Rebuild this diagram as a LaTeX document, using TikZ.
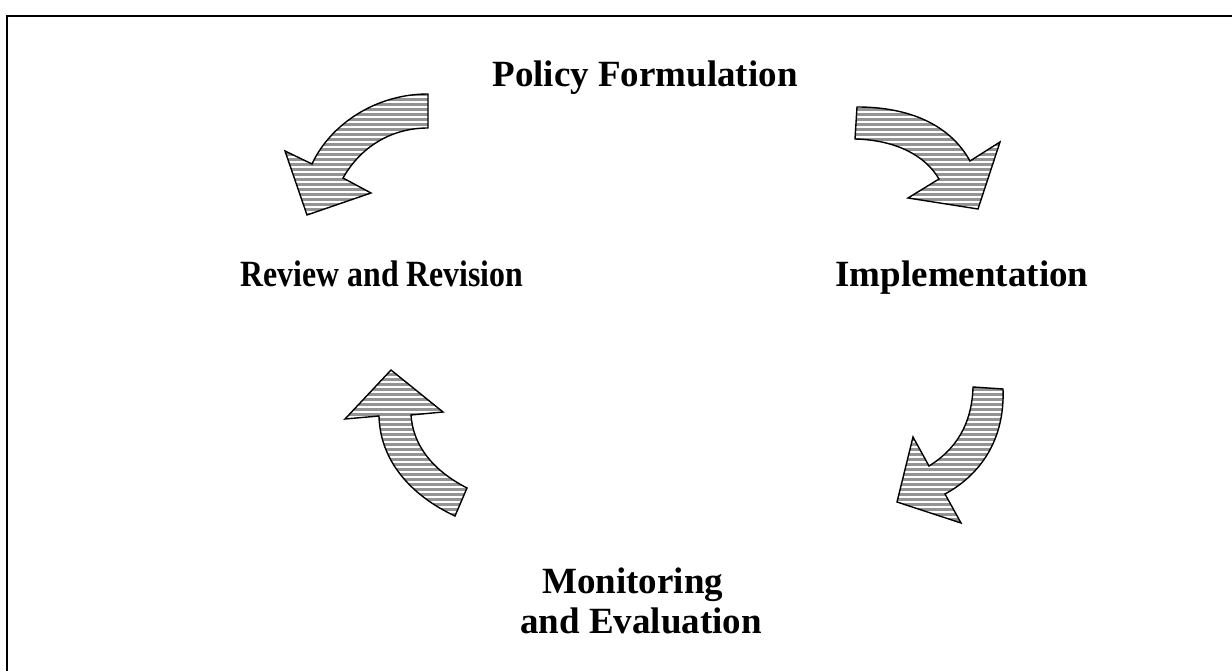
\documentclass[tikz,border=0pt]{standalone}
\usepackage{fontspec}
\setmainfont{Liberation Serif}

\begin{document}
\begin{tikzpicture}[x=1pt, y=-1pt,
  phase/.style={font=\bfseries\fontsize{37}{40}\selectfont, inner sep=0pt},
  bentarrow/.style={fill=black!42, draw=black, line width=1.4pt, line join=miter,
    path picture={\foreach \ry in {2,7,...,672} \draw[white, line width=1.1pt] (0,\ry) -- (1232,\ry);}}]
\useasboundingbox (0,0) rectangle (1232,671);
% frame
\draw[line width=2.2pt] (1232,16) -- (7,16) -- (7,671);
% the four phases
\node[phase, anchor=base] (policy) at (645,87) {Policy Formulation};
\node[phase, anchor=base] (review) at (382,287) {\scalebox{0.86}[1]{Review and Revision}};
\node[phase, anchor=base] (impl) at (962,287) {Implementation};
\node[phase, anchor=north west, align=left] (monitor) at (520,568) {\hspace{22pt}Monitoring\\ and Evaluation};
% curved block arrows
\path[bentarrow] (857,107) .. controls (910,107) and (950,125) .. (970,161) -- (1000,142) -- (978,209) -- (908,198) -- (939,179) .. controls (925,155) and (895,140) .. (855,139) -- cycle;
\path[bentarrow] (973,387) -- (1003,389) .. controls (1005,440) and (980,475) .. (945,494) -- (961,523) -- (897,502) -- (913,437) -- (929,466) .. controls (955,450) and (972,425) .. (973,387) -- cycle;
\path[bentarrow] (467,488) -- (455,516) .. controls (410,495) and (380,460) .. (379,416) -- (345,419) -- (391,370) -- (443,412) -- (411,415) .. controls (413,445) and (432,470) .. (467,488) -- cycle;
\path[bentarrow] (428,94) -- (428,128) .. controls (390,128) and (360,148) .. (343,178) -- (371,193) -- (307,215) -- (285,151) -- (312,164) .. controls (330,125) and (375,94) .. (428,94) -- cycle;
\end{tikzpicture}
\end{document}
